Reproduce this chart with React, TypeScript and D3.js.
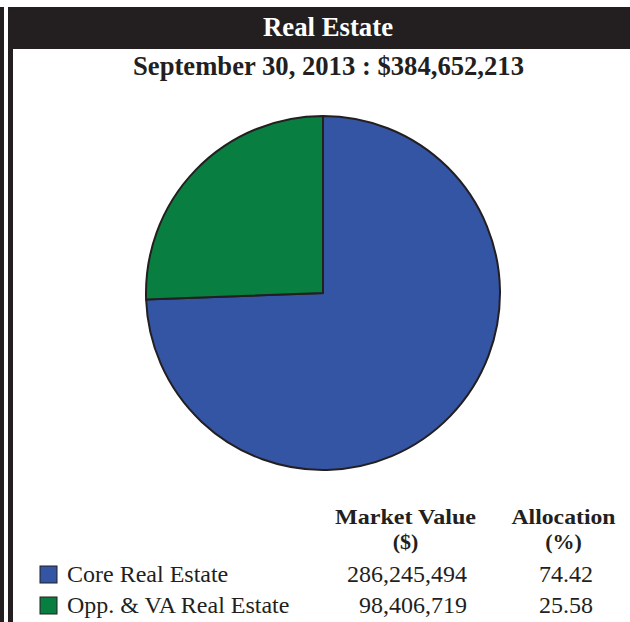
import * as d3 from "d3";
import React from "react";

const width = 630;
const height = 622;

const title = "Real Estate";
const subtitle = "September 30, 2013 : $384,652,213";
const categories = ["Core Real Estate", "Opp. & VA Real Estate"];
const marketValues = [286245494, 98406719];
const allocations = [74.42, 25.58];
const colors = ["#3454a4", "#087e40"];
const columnHeads = [
  ["Market Value", "($)"],
  ["Allocation", "(%)"],
];

const dark = "#231f20";
const font = "'Liberation Serif', 'Times New Roman', serif";

const center = { x: 323, y: 293 };
const radius = 177;

const App = () => {
  const pie = d3
    .pie<number>()
    .sort(null)
    .value((d) => d);
  const arcs = pie(marketValues);
  const arc = d3.arc<d3.PieArcDatum<number>>().innerRadius(0).outerRadius(radius);

  const fmtValue = d3.format(",");
  const fmtPct = d3.format(".2f");

  // rows of the little table under the pie
  const rowY = d3.scalePoint<string>().domain(categories).range([582, 613]);
  // the two numeric columns
  const colX = [405.5, 563.5];
  const headWidths = [141, 104];

  return (
    <svg
      width={width}
      height={height}
      style={{ position: "absolute", left: 0, top: 0, background: "#fff" }}
      fontFamily={font}
    >
      {/* left double rule */}
      <rect x={0} y={7} width={4} height={height - 7} fill={dark} />
      <rect x={8} y={7} width={5} height={height - 7} fill={dark} />

      {/* header band */}
      <rect x={8} y={7} width={width - 8} height={42} fill={dark} />
      <text
        x={328}
        y={36}
        textAnchor="middle"
        fill="#fff"
        fontWeight="bold"
        fontSize={28}
        textLength={130}
        lengthAdjust="spacingAndGlyphs"
      >
        {title}
      </text>
      <text
        x={328.5}
        y={75}
        textAnchor="middle"
        fill={dark}
        fontWeight="bold"
        fontSize={28}
        textLength={391}
        lengthAdjust="spacingAndGlyphs"
      >
        {subtitle}
      </text>

      {/* pie */}
      <g transform={`translate(${center.x},${center.y})`}>
        {arcs.map((a, i) => (
          <path
            key={categories[i]}
            d={arc(a) ?? ""}
            fill={colors[i]}
            stroke={dark}
            strokeWidth={2}
          />
        ))}
      </g>

      {/* column heads */}
      {columnHeads.map((lines, c) => (
        <g key={lines[0]} fill={dark} fontWeight="bold" fontSize={22} textAnchor="middle">
          <text
            x={colX[c]}
            y={524}
            textLength={headWidths[c]}
            lengthAdjust="spacingAndGlyphs"
          >
            {lines[0]}
          </text>
          <text x={colX[c]} y={549}>
            {lines[1]}
          </text>
        </g>
      ))}

      {/* legend rows */}
      {categories.map((cat, i) => {
        const y = rowY(cat) ?? 0;
        return (
          <g key={cat} fill={dark} fontSize={24}>
            <rect
              x={40}
              y={y - 16}
              width={17}
              height={17}
              fill={colors[i]}
              stroke={dark}
              strokeWidth={1}
            />
            <text x={67} y={y}>
              {cat}
            </text>
            <text x={467} y={y} textAnchor="end">
              {fmtValue(marketValues[i])}
            </text>
            <text x={593} y={y} textAnchor="end">
              {fmtPct(allocations[i])}
            </text>
          </g>
        );
      })}
    </svg>
  );
};

export default App;
